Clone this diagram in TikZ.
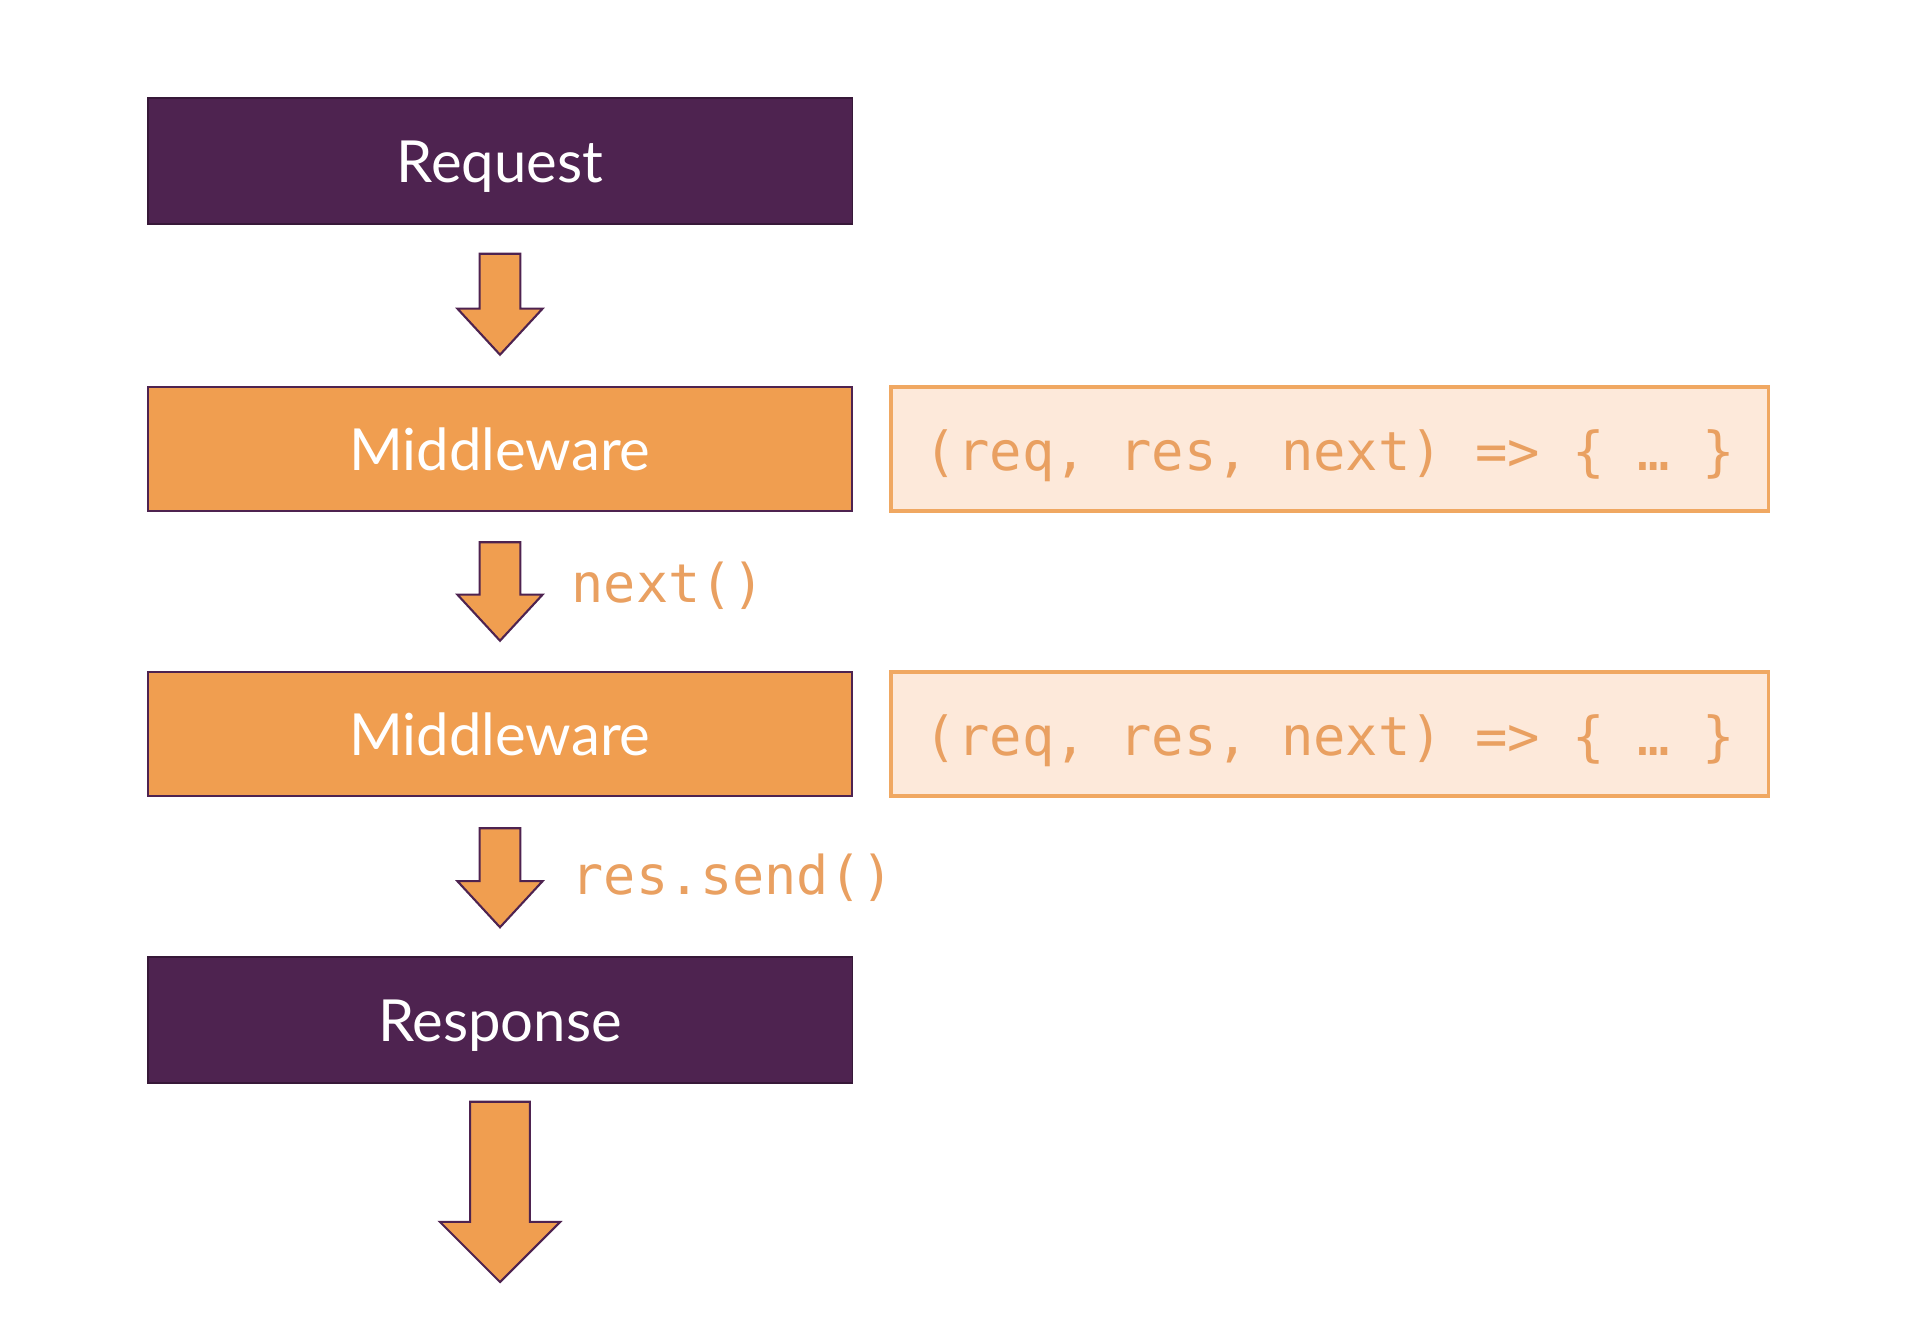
\documentclass[tikz,border=0pt]{standalone}
\usepackage{fontspec}
\setmainfont{Lato}
\setmonofont{DejaVu Sans Mono}
\usetikzlibrary{positioning,calc}

\definecolor{plum}{HTML}{4E2350}
\definecolor{tangerine}{HTML}{F09E50}
\definecolor{peach}{HTML}{FDE9DA}
\definecolor{codeline}{HTML}{F0A862}
\definecolor{codetext}{HTML}{E9A061}

\tikzset{
  endbox/.style={draw=plum!70!black, line width=0.4pt, fill=plum, text=white,
    minimum width=7.04cm, minimum height=1.26cm, text height=12pt, text depth=0pt,
    font=\fontsize{16.5}{18}\selectfont},
  mwbox/.style={draw=plum, line width=0.7pt, fill=tangerine, text=white,
    minimum width=7.04cm, minimum height=1.24cm, text height=12pt, text depth=0pt,
    font=\fontsize{16.5}{18}\selectfont},
  codebox/.style={draw=codeline, line width=0.9pt, fill=peach, text=codetext,
    minimum width=8.77cm, minimum height=1.24cm, text height=12.4pt, text depth=0pt,
    font=\ttfamily\fontsize{15.3}{17}\selectfont},
  steplabel/.style={text=codetext, anchor=west, inner sep=0pt,
    font=\ttfamily\fontsize{15.2}{17}\selectfont},
  blockarrow/.style={draw=plum, line width=0.6pt, fill=tangerine, line join=miter}
}

% block arrow: start, end, half shaft, half head, head length
\newcommand{\flowarrow}[5]{%
  \draw[blockarrow] let \p1=(#1), \p2=(#2) in
    (\x1-#3,\y1) -- (\x1+#3,\y1) -- (\x1+#3,\y2+#5) -- (\x1+#4,\y2+#5)
    -- (\x1,\y2) -- (\x1-#4,\y2+#5) -- (\x1-#3,\y2+#5) -- cycle;}

\begin{document}
\begin{tikzpicture}[x=0.01cm, y=-0.01cm]
  \useasboundingbox (0,0) rectangle (1906,1322);

  % Nodes
  \node[endbox] (req) at (500,161) {Request};
  \node[mwbox] (mw1) at (500,449) {Middleware};
  \node[mwbox] (mw2) at (500,734) {Middleware};
  \node[endbox] (res) at (500,1020) {Response};

  \node[codebox, right=0.36cm of mw1] (fn1) {(req, res, next) => \{ … \}};
  \node[codebox, right=0.36cm of mw2] (fn2) {(req, res, next) => \{ … \}};

  \coordinate (out) at (500,1282);

  % Arrows
  \flowarrow{$(req.south)+(0,29)$}{$(mw1.north)-(0,31)$}{5.8pt}{12.1pt}{13.1pt}
  \flowarrow{$(mw1.south)+(0,30)$}{$(mw2.north)-(0,30)$}{5.8pt}{12.1pt}{13.1pt}
  \flowarrow{$(mw2.south)+(0,31)$}{$(res.north)-(0,29)$}{5.8pt}{12.1pt}{13.1pt}
  \flowarrow{$(res.south)+(0,18)$}{out}{8.5pt}{17.1pt}{17.1pt}

  % Labels
  \node[steplabel] (nextlbl) at (571,586) {next()};
  \node[steplabel] (sendlbl) at (571,878) {res.send()};

\end{tikzpicture}
\end{document}
